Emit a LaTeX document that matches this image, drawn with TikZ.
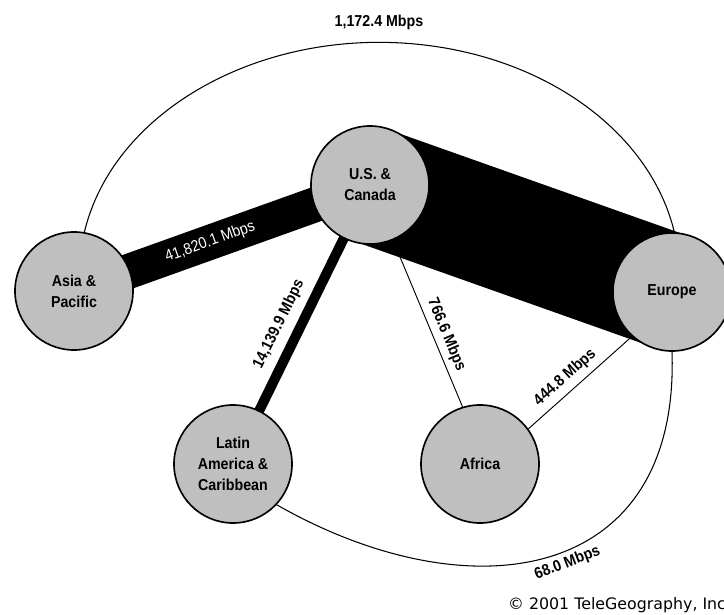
\documentclass[tikz,border=0pt]{standalone}
\usepackage{fontspec}
\newfontfamily\lblfont{Liberation Sans}[FakeStretch=0.9]
\newfontfamily\copyfont{DejaVu Sans}
\usetikzlibrary{calc}
\pgfdeclarelayer{background}
\pgfsetlayers{background,main}
\begin{document}
\begin{tikzpicture}[x=0.3mm, y=0.3mm,
  region/.style={circle, draw=black, line width=1.4pt, fill=black!25,
    minimum size=35.4mm, inner sep=0pt, align=center,
    font=\lblfont\bfseries\fontsize{13.5}{18}\selectfont},
  wlabel/.style={font=\lblfont\fontsize{13.5}{16}\selectfont, text=white, inner sep=0pt},
  blabel/.style={font=\lblfont\bfseries\fontsize{13.5}{16}\selectfont, text=black, inner sep=0pt},
  thinlink/.style={line width=0.8pt},
  arcline/.style={line width=0.9pt}]
\useasboundingbox (0,0) rectangle (724,614);
\clip (0,0) rectangle (724,614);

% regions
\node[region] (us)   at (370,429) {U.S. \&\\Canada};
\node[region] (asia) at (74,323)  {Asia \&\\Pacific};
\node[region] (eur)  at (672,322) {Europe};
\node[region] (lat)  at (233,150) {Latin\\America \&\\Caribbean};
\node[region] (afr)  at (480,150) {Africa};

% thick bands behind the circles
\begin{pgfonlayer}{background}
\fill[white] (0,0) rectangle (724,614);
\draw[line width=35mm] (us.center) -- (eur.center)
  node[pos=0.4636, sloped, below=0.55mm, wlabel] {162,250.1 Mbps};
\draw[line width=10.5mm] (asia.center) -- (us.center)
  node[pos=0.46, sloped, wlabel] {41,820.1 Mbps};
\draw[line width=3mm] (lat.center) -- (us.center)
  node[pos=0.469, sloped, above=2.4mm, blabel] {14,139.9 Mbps};
\end{pgfonlayer}

% thin links
\draw[thinlink] (us) -- (afr.107)
  node[pos=0.597, sloped, above=1.5mm, blabel] {766.6 Mbps};
\draw[thinlink] (afr.36) -- (eur.228)
  node[pos=0.443, sloped, above=1.8mm, blabel] {444.8 Mbps};

% outer arcs
\draw[arcline] (asia.80) arc[start angle=169.5, end angle=10.5, x radius=300, y radius=232];
\node[blabel, anchor=base] (total) at (379,587.3) {1,172.4 Mbps};
\draw[arcline] (lat.-43) .. controls (470,-1) and (680,30) .. (eur.south)
  node[pos=0.53, sloped, below=1.2mm, blabel] {68.0 Mbps};

% credit
\node[anchor=base west, inner sep=0pt, font=\copyfont\fontsize{13.5}{16}\selectfont] (credit) at (508,5) {© 2001 TeleGeography, Inc.};
\end{tikzpicture}
\end{document}
